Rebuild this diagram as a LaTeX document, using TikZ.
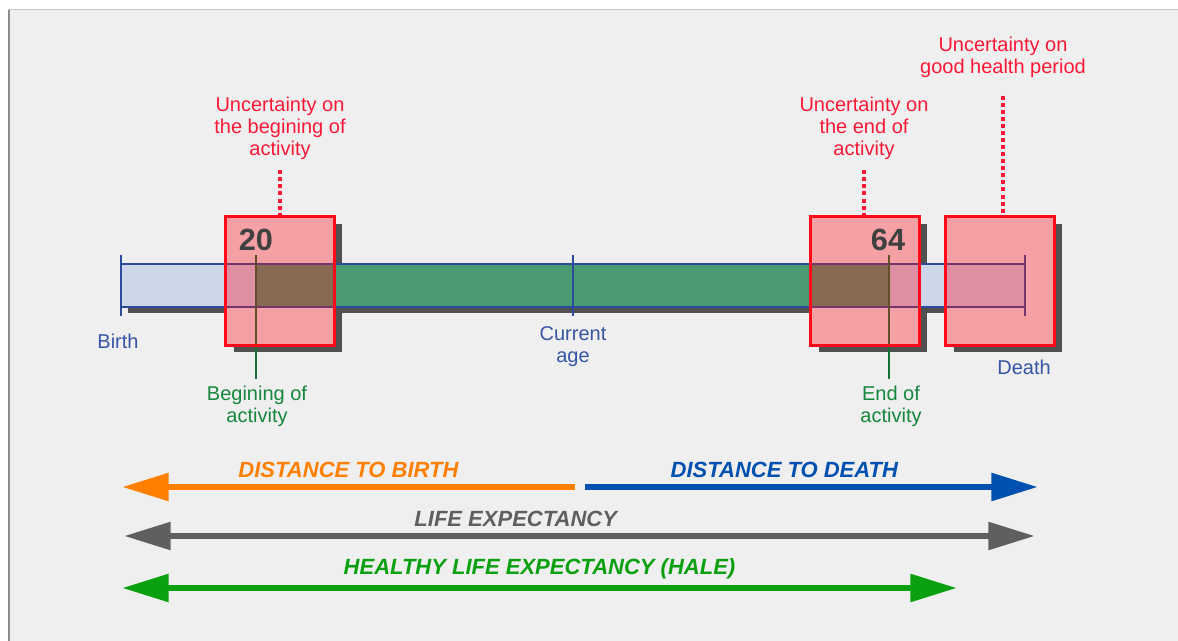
\documentclass[tikz,border=0pt]{standalone}
\usepackage{fontspec}
\setmainfont{Liberation Sans}
\usetikzlibrary{arrows.meta,shadows,positioning}

\definecolor{fondo}{RGB}{239,239,239}
\definecolor{barblue}{RGB}{206,214,233}
\definecolor{bardark}{RGB}{45,75,155}
\definecolor{bargreen}{RGB}{74,155,115}
\definecolor{sombra}{RGB}{80,80,80}
\definecolor{uncred}{RGB}{255,10,25}
\definecolor{txtred}{RGB}{250,25,55}
\definecolor{txtblue}{RGB}{55,85,165}
\definecolor{txtgreen}{RGB}{20,135,60}
\definecolor{arrorange}{RGB}{255,128,0}
\definecolor{arrblue}{RGB}{0,80,175}
\definecolor{arrgrey}{RGB}{95,95,97}
\definecolor{arrgreen}{RGB}{10,160,15}

\tikzset{
  uncbox/.style={minimum width=81pt, minimum height=96pt, inner sep=0pt, fill=fondo,
    drop shadow={shadow xshift=6pt, shadow yshift=-5.25pt, fill=sombra, opacity=1}},
  unctint/.style={fill=uncred, fill opacity=0.34, draw=uncred, line width=1.9pt},
  uncdot/.style={txtred, line width=2.3pt, dash pattern=on 3pt off 2.3pt},
  unclabel/.style={text=txtred, align=center, inner sep=0pt, font=\fontsize{15}{16.5}\selectfont},
  agelabel/.style={text=txtblue, align=center, inner sep=0pt, font=\fontsize{15}{16.5}\selectfont},
  worklabel/.style={text=txtgreen, align=center, inner sep=0pt, font=\fontsize{15}{16.5}\selectfont},
  agenum/.style={text=black!75, inner sep=0pt, font=\bfseries\fontsize{23}{23}\selectfont},
  spanarrow/.style={line width=5pt, >={Triangle[length=35pt,width=20pt]}},
  spanlabel/.style={above=4.5pt, inner sep=0pt, font=\bfseries\itshape\fontsize{16.5}{16.5}\selectfont}
}

\begin{document}
\begin{tikzpicture}[x=0.75pt,y=-0.75pt]
%fondo y marco
\useasboundingbox (0,0) rectangle (1178,641);
\fill[white] (0,0) rectangle (1178,641);
\fill[fondo] (8,9) rectangle (1178,641);
\draw[black!45, line width=1.5pt] (9,9) -- (9,641);
\draw[black!22, line width=0.75pt] (8,9.5) -- (1178,9.5);

%puntos sobre el eje de la vida
\coordinate (birth) at (121,285.5);
\coordinate (start) at (256,285.5);
\coordinate (now) at (573,285.5);
\coordinate (stop) at (889,285.5);
\coordinate (death) at (1025,285.5);

%textos
\node[unclabel] (unc1) at (280,128) {Uncertainty on\\the begining of\\activity};
\node[unclabel] (unc2) at (864,128) {Uncertainty on\\the end of\\activity};
\node[unclabel] (unc3) at (1003,57) {Uncertainty on\\good health period};
\node[agelabel] (lbirth) at (118,341) {Birth};
\node[agelabel] (lnow) at (573,347) {Current\\age};
\node[agelabel] (ldeath) at (1024,367) {Death};
\node[worklabel] (work1) at (257,406) {Begining of\\activity};
\node[worklabel] (work2) at (891,406) {End of\\activity};

%sombra de la barra
\fill[sombra] (128,270) rectangle (1032,313);

%cajas de incertidumbre
\node[uncbox] (box1) at (280,281) {};
\node[uncbox] (box2) at (865,281) {};
\node[uncbox] (box3) at (1000,281) {};

%barra de vida
\fill[barblue] (121,264) rectangle (1025,307);
\fill[bargreen] (256,264) rectangle (889,307);
\draw[bardark, line width=1.3pt] (121,264) rectangle (1025,307);

%marcas sobre la barra
\foreach \p in {birth,now,death}
  \draw[bardark, line width=1.9pt] (\p) ++(0,-30.5) -- ++(0,61);

%lineas de actividad
\draw[txtgreen!85!black, line width=1.9pt, shorten >=5pt] (start) ++(0,-30.5) -- (start |- work1.north);
\draw[txtgreen!85!black, line width=1.9pt, shorten >=5pt] (stop) ++(0,-30.5) -- (stop |- work2.north);

%lineas punteadas
\draw[uncdot, shorten <=8pt] (unc1.south) -- (unc1.south |- box1.north);
\draw[uncdot, shorten <=8pt] (unc2.south) -- (unc2.south |- box2.north);
\draw[uncdot, shorten <=13.5pt] (unc3.south) -- (unc3.south |- box3.north);

%tinte rojo de las cajas
\foreach \b in {box1,box2,box3}
  \draw[unctint] (\b.south west) rectangle (\b.north east);

%edades
\node[agenum] (n20) at (256,240) {20};
\node[agenum] (n64) at (888,240) {64};

%flechas de distancias
\coordinate (ob) at (575,487);
\coordinate (oe) at (122,487);
\coordinate (bb) at (585,487);
\coordinate (be) at (1038,487);
\coordinate (gb) at (124,536);
\coordinate (ge) at (1035,536);
\coordinate (hb) at (122,588);
\coordinate (he) at (957,588);
\draw[spanarrow, ->, arrorange] (ob) -- (oe) node[spanlabel, midway] {DISTANCE TO BIRTH};
\draw[spanarrow, ->, arrblue] (bb) -- (be) node[spanlabel, pos=0.44] {DISTANCE TO DEATH};
\draw[spanarrow, <->, arrgrey] (gb) -- (ge) node[spanlabel, pos=0.43] {LIFE EXPECTANCY};
\draw[spanarrow, <->, arrgreen] (hb) -- (he) node[spanlabel, midway] {HEALTHY LIFE EXPECTANCY (HALE)};
\end{tikzpicture}
\end{document}
